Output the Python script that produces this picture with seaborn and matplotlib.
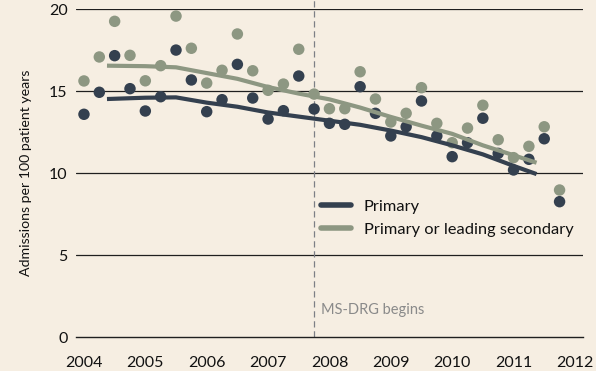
import numpy as np
import pandas as pd
import matplotlib
matplotlib.use("Agg")
import matplotlib.pyplot as plt
from matplotlib.lines import Line2D
import seaborn as sns

# Quarterly admission rates (per 100 patient years)
quarters = [2004 + 0.25 * i for i in range(32)]
primary = [13.59, 14.93, 17.16, 15.15, 13.79, 14.66, 17.50, 15.68,
           13.75, 14.48, 16.63, 14.58, 13.30, 13.81, 15.92, 13.91,
           13.04, 12.98, 15.27, 13.65, 12.27, 12.83, 14.40, 12.27,
           11.01, 11.86, 13.35, 11.21, 10.20, 10.85, 12.10, 8.27]
primary_or_secondary = [15.62, 17.08, 19.25, 17.18, 15.63, 16.55, 19.57, 17.61,
                        15.49, 16.27, 18.48, 16.24, 15.05, 15.43, 17.55, 14.82,
                        13.93, 13.93, 16.18, 14.52, 13.12, 13.65, 15.21, 13.04,
                        11.86, 12.75, 14.14, 12.04, 10.95, 11.64, 12.83, 8.98]

# Smoothed trends
trend_x = [2004.375, 2005.0, 2005.5, 2006.0, 2006.5, 2007.0, 2007.5, 2008.0,
           2008.5, 2009.0, 2009.5, 2010.0, 2010.5, 2011.0, 2011.375]
trend_primary = [14.52, 14.60, 14.62, 14.30, 14.05, 13.70, 13.45, 13.20,
                 12.95, 12.60, 12.20, 11.70, 11.15, 10.45, 9.95]
trend_secondary = [16.55, 16.52, 16.45, 16.10, 15.75, 15.25, 14.85, 14.50,
                   14.00, 13.43, 12.90, 12.40, 11.70, 11.10, 10.64]

series_names = ["Primary", "Primary or leading secondary"]
year_ticks = list(range(2004, 2013))
y_ticks = [0, 5, 10, 15, 20]
policy_start = 2007.75

dark = "#34404F"
sage = "#8D9782"
bg = "#F6EEE2"
palette = {series_names[0]: dark, series_names[1]: sage}

points = pd.DataFrame({
    "quarter": quarters * 2,
    "rate": primary + primary_or_secondary,
    "series": [series_names[0]] * len(quarters) + [series_names[1]] * len(quarters),
})
trends = pd.DataFrame({
    "x": trend_x * 2,
    "rate": trend_primary + trend_secondary,
    "series": [series_names[0]] * len(trend_x) + [series_names[1]] * len(trend_x),
})

sns.set_theme(style="white")
plt.rcParams["font.family"] = ["Lato", "DejaVu Sans"]

fig = plt.figure(figsize=(5.96, 3.71), dpi=100, facecolor=bg)
ax = fig.add_axes([0.1275, 0.0903, 0.8505, 0.8854])
ax.set_facecolor(bg)

for y in y_ticks[1:]:
    ax.axhline(y, color="#1f1f1f", lw=0.9, zorder=1)

ax.axvline(policy_start, ymin=0, ymax=1.03, color="#7d7f85", lw=0.9,
           ls=(0, (5, 3)), zorder=1, clip_on=False)
ax.text(policy_start + 0.12, 1.67, "MS-DRG begins", color="#8a8a8a",
        fontsize=10.5, va="center", ha="left")

# draw secondary series first so primary dots sit on top
order = [series_names[1], series_names[0]]
for name in order:
    sub = points[points.series == name]
    sns.scatterplot(data=sub, x="quarter", y="rate", color=palette[name],
                    s=68, edgecolor="none", ax=ax, zorder=3, clip_on=False,
                    legend=False)
for name in order:
    sub = trends[trends.series == name]
    sns.lineplot(data=sub, x="x", y="rate", color=palette[name], lw=3.0,
                 ax=ax, zorder=4, legend=False, solid_capstyle="butt")

ax.set_xlim(2003.87, 2012.13)
ax.set_ylim(0, 20)
ax.set_xticks(year_ticks)
ax.set_xticklabels([str(y) for y in year_ticks])
ax.set_yticks(y_ticks)
ax.set_yticklabels([str(y) for y in y_ticks])
ax.tick_params(axis="x", direction="in", length=7.5, width=1.0,
               color="#444444", pad=13, labelsize=11.5, labelcolor="#111111")
ax.tick_params(axis="y", length=0, pad=6, labelsize=11.5, labelcolor="#111111")
ax.set_xlabel("")
ax.set_ylabel("Admissions per 100 patient years", fontsize=10.2,
              color="#111111", labelpad=12)

for side in ["top", "right", "left"]:
    ax.spines[side].set_visible(False)
ax.spines["bottom"].set_color("#1f1f1f")
ax.spines["bottom"].set_linewidth(1.0)

handles = [Line2D([0], [0], color=dark, lw=4, solid_capstyle="round"),
           Line2D([0], [0], color=sage, lw=4, solid_capstyle="round")]
ax.legend(handles, series_names, loc="upper left",
          bbox_to_anchor=(0.455, 0.465), frameon=False, fontsize=11.8,
          handlelength=1.8, handletextpad=0.8, labelspacing=0.5,
          labelcolor="#111111")

fig.savefig("out.png", dpi=100, facecolor=bg)
